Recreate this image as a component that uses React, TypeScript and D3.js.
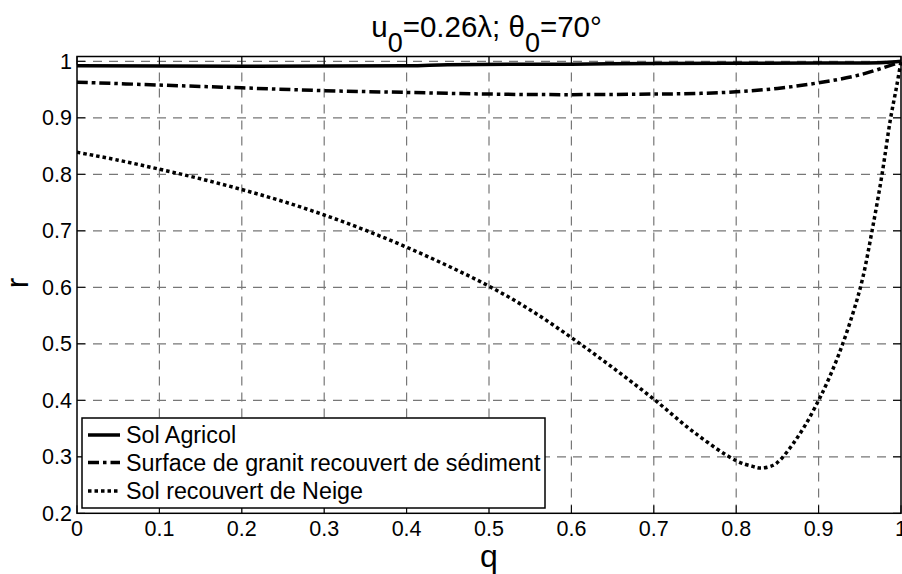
import React from "react";
import * as d3 from "d3";

const xTicks = [0, 0.1, 0.2, 0.3, 0.4, 0.5, 0.6, 0.7, 0.8, 0.9, 1];
const xTickLabels = ["0", "0.1", "0.2", "0.3", "0.4", "0.5", "0.6", "0.7", "0.8", "0.9", "1"];
const yTicks = [0.2, 0.3, 0.4, 0.5, 0.6, 0.7, 0.8, 0.9, 1];
const yTickLabels = ["0.2", "0.3", "0.4", "0.5", "0.6", "0.7", "0.8", "0.9", "1"];

const qAgricol = [0, 0.4, 0.45, 0.6, 0.7, 0.9, 0.95, 0.98, 1];
const rAgricol = [0.992, 0.992, 0.994, 0.995, 0.996, 0.997, 0.997, 0.998, 1.0];

const qGranit = [0, 0.1, 0.2, 0.3, 0.4, 0.5, 0.6, 0.7, 0.75, 0.8, 0.85, 0.9, 0.95, 1];
const rGranit = [0.963, 0.958, 0.953, 0.948, 0.945, 0.942, 0.941, 0.942, 0.943, 0.946, 0.952, 0.962, 0.976, 0.999];

const qNeige = [0, 0.05, 0.1, 0.15, 0.2, 0.25, 0.3, 0.35, 0.4, 0.45, 0.5, 0.55, 0.6, 0.65, 0.7, 0.75, 0.8, 0.82, 0.83, 0.845, 0.853, 0.869, 0.885, 0.9, 0.909, 0.925, 0.941, 0.953, 0.965, 0.977, 0.987, 0.995, 1];
const rNeige = [0.839, 0.825, 0.809, 0.792, 0.773, 0.752, 0.728, 0.701, 0.671, 0.638, 0.602, 0.56, 0.511, 0.458, 0.402, 0.342, 0.293, 0.283, 0.28, 0.285, 0.294, 0.323, 0.359, 0.4, 0.427, 0.483, 0.551, 0.613, 0.701, 0.8, 0.896, 0.958, 1.0];

const seriesNames = ["Sol Agricol", "Surface de granit recouvert de sédiment", "Sol recouvert de Neige"];

const W = 902;
const H = 574;
const L = 77, R = 901, T = 56.5, B = 513.3;
const FONT = "Arial, 'Liberation Sans', Helvetica, sans-serif";

export default function App() {
  const x = d3.scaleLinear().domain([0, 1]).range([L, R]);
  const y = d3.scaleLinear().domain([0.2, 1.0085]).range([B, T]);
  const line = d3
    .line<[number, number]>()
    .x((d) => x(d[0]))
    .y((d) => y(d[1]))
    .curve(d3.curveCatmullRom.alpha(0.5));

  const series = [
    { q: qAgricol, r: rAgricol, dash: undefined as string | undefined },
    { q: qGranit, r: rGranit, dash: "11,4,3.5,4" },
    { q: qNeige, r: rNeige, dash: "3.5,3" },
  ];

  const legendX = 82, legendY = 418, legendW = 463, legendH = 90;
  const rowY = [435, 462.5, 491];

  return (
    <div style={{ position: "absolute", left: 0, top: 0 }}>
      <svg width={W} height={H} style={{ display: "block", background: "#fff" }} fontFamily={FONT}>
        <rect x={0} y={0} width={W} height={H} fill="#fff" />
        <defs>
          <clipPath id="plotclip">
            <rect x={L} y={T - 2} width={R - L + 2} height={B - T + 4} />
          </clipPath>
        </defs>
        {/* grid */}
        {xTicks.slice(1, -1).map((t) => (
          <line key={"gx" + t} x1={x(t)} x2={x(t)} y1={T} y2={B} stroke="#777" strokeWidth={1.2} strokeDasharray="9,7" />
        ))}
        {yTicks.slice(1).map((t) => (
          <line key={"gy" + t} x1={L} x2={R} y1={y(t)} y2={y(t)} stroke="#777" strokeWidth={1.2} strokeDasharray="9,7" />
        ))}
        {/* ticks */}
        {xTicks.map((t) => (
          <g key={"tx" + t}>
            <line x1={x(t)} x2={x(t)} y1={B} y2={B - 8} stroke="#000" strokeWidth={1} />
            <line x1={x(t)} x2={x(t)} y1={T} y2={T + 8} stroke="#000" strokeWidth={1} />
          </g>
        ))}
        {yTicks.map((t) => (
          <g key={"ty" + t}>
            <line x1={L} x2={L + 8} y1={y(t)} y2={y(t)} stroke="#000" strokeWidth={1} />
            <line x1={R} x2={R - 8} y1={y(t)} y2={y(t)} stroke="#000" strokeWidth={1} />
          </g>
        ))}
        {/* series */}
        <g clipPath="url(#plotclip)">
          {series.map((s, i) => (
            <path
              key={"s" + i}
              d={line(s.q.map((q, j) => [q, s.r[j]] as [number, number])) || ""}
              fill="none"
              stroke="#000"
              strokeWidth={3.5}
              strokeDasharray={s.dash}
            />
          ))}
        </g>
        {/* frame */}
        <rect x={L} y={T} width={R - L} height={B - T} fill="none" stroke="#000" strokeWidth={1.5} />
        {/* tick labels */}
        {xTicks.map((t, i) => (
          <text key={"lx" + t} x={x(t)} y={536} fontSize={21.5} textAnchor="middle" fill="#000">
            {xTickLabels[i]}
          </text>
        ))}
        {yTicks.map((t, i) => (
          <text key={"ly" + t} x={72} y={y(t) + 7.5} fontSize={21.5} textAnchor="end" fill="#000">
            {yTickLabels[i]}
          </text>
        ))}
        {/* axis labels */}
        <text x={489} y={567} fontSize={32} textAnchor="middle" fill="#000">q</text>
        <text x={0} y={0} fontSize={32} textAnchor="middle" fill="#000" transform={`translate(28,283) rotate(-90)`}>r</text>
        {/* title */}
        <text x={486.5} y={36.7} fontSize={29.5} textAnchor="middle" fill="#000">
          u<tspan dy={15} fontSize={27}>0</tspan>
          <tspan dy={-15}>=0.26λ; θ</tspan>
          <tspan dy={15} fontSize={27}>0</tspan>
          <tspan dy={-15}>=70°</tspan>
        </text>
        {/* legend */}
        <rect x={legendX} y={legendY} width={legendW} height={legendH} fill="#fff" stroke="#000" strokeWidth={1.5} />
        {series.map((s, i) => (
          <g key={"lg" + i}>
            <line x1={88} x2={120} y1={rowY[i]} y2={rowY[i]} stroke="#000" strokeWidth={3.5} strokeDasharray={s.dash} />
            <text x={126} y={rowY[i] + 8} fontSize={23.3} fill="#000">{seriesNames[i]}</text>
          </g>
        ))}
      </svg>
    </div>
  );
}
